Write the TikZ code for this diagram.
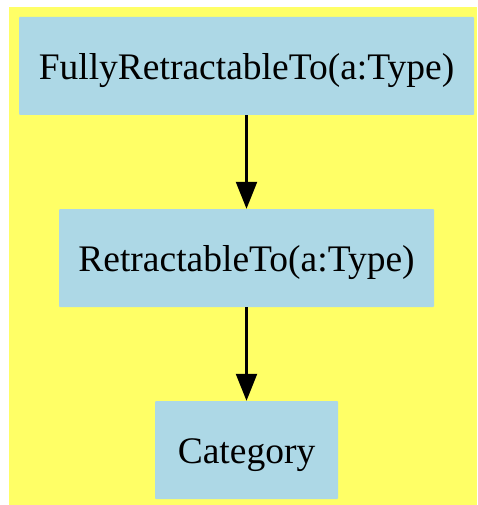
\documentclass[tikz,border=0pt]{standalone}
\usepackage{fontspec}
\setmainfont{Liberation Serif}
\usetikzlibrary{arrows.meta}
\definecolor{bgyellow}{HTML}{FFFF66}
\definecolor{boxblue}{HTML}{ADD8E6}
\begin{document}
\begin{tikzpicture}[x=1pt,y=-1pt,
  box/.style={fill=boxblue, draw=none, rounded corners=1pt, inner sep=0pt,
    font=\fontsize{37.5}{42}\selectfont, anchor=center,
    text height=27.5pt, text depth=0pt},
  conn/.style={line width=2.2pt, -{Triangle[length=27pt,width=21pt]}}]
\useasboundingbox (0,0) rectangle (477,505);
\fill[bgyellow] (9,7) rectangle (477,505);
\node[box, minimum width=455pt, minimum height=98pt] (full) at (246.5,66) {FullyRetractableTo(a:Type)};
\node[box, minimum width=375pt, minimum height=98pt] (retr) at (246.5,258) {RetractableTo(a:Type)};
\node[box, minimum width=183pt, minimum height=98pt] (cat) at (246.5,450) {Category};
\draw[conn] (full) -- (retr);
\draw[conn] (retr) -- (cat);
\end{tikzpicture}
\end{document}
